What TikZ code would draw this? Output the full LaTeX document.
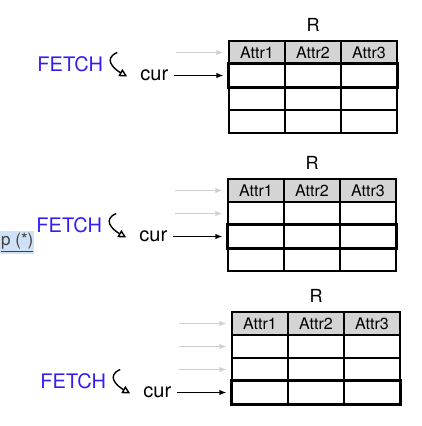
\documentclass[tikz,border=0pt]{standalone}
\usepackage{fontspec}
\setmainfont{TeX Gyre Heros}
\usetikzlibrary{arrows.meta,positioning,calc}
\definecolor{FetchBlue}{RGB}{52,28,245}
\definecolor{HeadGray}{RGB}{212,212,212}
\definecolor{GhostGray}{RGB}{208,208,208}
\definecolor{MarkBlue}{RGB}{206,225,246}
\tikzset{
  cell/.style={draw=black,line width=1.2pt,minimum width=56pt,minimum height=23pt,
    inner sep=0pt,font=\fontsize{16}{16}\selectfont},
  headcell/.style={cell,fill=HeadGray},
  rowmark/.style={line width=3.5pt,black},
  fetchlabel/.style={text=FetchBlue,inner sep=0pt,font=\fontsize{20}{20}\selectfont},
  curlabel/.style={inner sep=0pt,font=\fontsize{20}{20}\selectfont},
  rellabel/.style={inner sep=0pt,font=\fontsize{18}{18}\selectfont},
  marklabel/.style={fill=MarkBlue,text=black!75,inner xsep=1pt,inner ysep=2.5pt,
    font=\fontsize{17}{17}\selectfont},
  ptr/.style={-{Latex[length=7pt,width=5.5pt]},line width=1.2pt,black,shorten >=5pt},
  ghost/.style={ptr,GhostGray},
  curl/.style={-{Triangle[open,length=8pt,width=8pt]},line width=1.4pt}
}

\begin{document}
\begin{tikzpicture}[x=1pt,y=-1pt]
  \useasboundingbox (0,0) rectangle (421,426);
  \foreach \t/\lx/\ty in {1/229/41,2/228/179,3/232/312}{
    % table R
    \foreach \c in {1,2,3}{
      \node[headcell] (t\t-0-\c) at (\lx+56*\c-28,\ty+11.5) {Attr\c};
      \foreach \r in {1,2,3}
        \node[cell] (t\t-\r-\c) at (\lx+56*\c-28,\ty+23*\r+11.5) {};
    }
    \node[rellabel,above=9pt of t\t-0-2] (rel\t) {R};
    \draw[rowmark] (t\t-\t-1.north west) rectangle (t\t-\t-3.south east);
    % cursor
    \node[curlabel,left=60pt of t\t-\t-1] (cur\t) {cur};
    \node[fetchlabel,anchor=east] (fetch\t) at ($(cur\t.west)+(-37,-11)$) {FETCH};
    \draw[ptr,shorten <=6pt] (cur\t) -- (t\t-\t-1);
    \draw[curl] ($(fetch\t.east)+(14,-12)$) .. controls +(-14,6) and +(-14,-8) .. ($(fetch\t.east)+(24,12)$);
    \pgfmathtruncatemacro\last{\t-1}
    \foreach \g in {0,...,\last}{
      \coordinate[left=52pt of t\t-\g-1] (g\t-\g);
      \draw[ghost] (g\t-\g) -- (t\t-\g-1);
    }
  }
  \node[marklabel,anchor=west] (note) at (0,242.5) {\underline{p (*)}};
\end{tikzpicture}
\end{document}
